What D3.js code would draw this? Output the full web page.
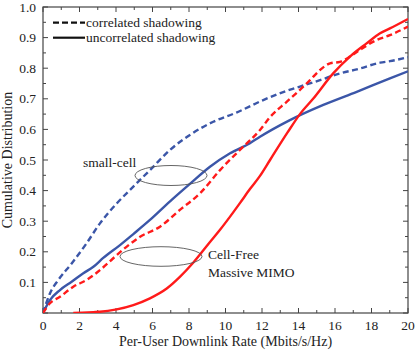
<!DOCTYPE html>
<html><head><meta charset="utf-8">
<script src="https://cdn.jsdelivr.net/npm/d3@7"></script>
<style>body{margin:0;background:#fff}svg{display:block}</style>
</head><body>
<script>
const xTicks = [0,2,4,6,8,10,12,14,16,18,20];
const yTicks = [0.1,0.2,0.3,0.4,0.5,0.6,0.7,0.8,0.9,1.0];

const smallCorrX = [0,0.38,0.84,1.57,2.39,3.12,4.04,4.95,5.86,6.96,8.05,9.33,10.6,12.07,13.35,14.08,15.18,16.27,17.19,18.47,19.01,20];
const smallCorrY = [0,0.064,0.108,0.162,0.228,0.293,0.358,0.413,0.467,0.533,0.582,0.625,0.655,0.696,0.726,0.74,0.761,0.783,0.796,0.818,0.823,0.836];

const smallUncX = [0,0.38,0.93,1.57,2.21,2.76,3.3,4.22,4.95,5.86,6.96,8.05,9.15,10.25,11.34,11.89,13.45,15.36,17.19,19.01,20];
const smallUncY = [0,0.042,0.075,0.102,0.13,0.151,0.18,0.222,0.258,0.304,0.365,0.422,0.478,0.522,0.555,0.576,0.628,0.68,0.723,0.767,0.79];

const cfCorrX = [0,0.38,0.93,1.66,2.39,3.12,3.85,4.59,5.32,6.41,7.5,8.6,9.7,10.79,11.89,12.44,13.35,14.08,14.63,15.18,15.73,16.27,16.82,17.37,18.28,19.01,20];
const cfCorrY = [0,0.032,0.053,0.086,0.108,0.14,0.179,0.217,0.249,0.282,0.337,0.391,0.467,0.533,0.598,0.64,0.69,0.729,0.761,0.794,0.816,0.821,0.838,0.86,0.892,0.908,0.936];

const cfUncX = [1.66,2.76,3.12,4.04,4.95,5.86,6.78,7.5,8.24,9.15,9.7,10.25,10.8,11.34,11.89,12.44,13.4,14.08,14.8,15.9,16.82,17.73,18.47,19.01,20];
const cfUncY = [0,0.003,0.004,0.012,0.026,0.048,0.08,0.118,0.165,0.232,0.272,0.315,0.36,0.405,0.448,0.5,0.59,0.65,0.7,0.783,0.838,0.881,0.914,0.93,0.961];

const legendLabels = ["correlated shadowing","uncorrelated shadowing"];
const xLabel = "Per-User Downlink Rate (Mbits/s/Hz)";
const yLabel = "Cumulative Distribution";

const W = 415, H = 350;
const m = {left:43, right:7, top:7, bottom:37};
const svg = d3.select("body").append("svg").attr("width",W).attr("height",H);
const x = d3.scaleLinear().domain([0,20]).range([m.left, W-m.right]);
const y = d3.scaleLinear().domain([0,1]).range([H-m.bottom, m.top]);
const font = "'Liberation Serif', 'Times New Roman', serif";
const axisCol = "#444";

// minor ticks
const xMinor = d3.range(0,21,1);
const yMinor = d3.range(0,1.0001,0.05);
const g = svg.append("g");
xMinor.forEach(v=>{
  const len = (v%2===0)?5:3;
  g.append("line").attr("x1",x(v)).attr("x2",x(v)).attr("y1",y(0)).attr("y2",y(0)-len).attr("stroke",axisCol);
  g.append("line").attr("x1",x(v)).attr("x2",x(v)).attr("y1",y(1)).attr("y2",y(1)+len).attr("stroke",axisCol);
});
yMinor.forEach((v,i)=>{
  const len = (i%2===0)?5:3;
  g.append("line").attr("x1",x(0)).attr("x2",x(0)+len).attr("y1",y(v)).attr("y2",y(v)).attr("stroke",axisCol);
  g.append("line").attr("x1",x(20)).attr("x2",x(20)-len).attr("y1",y(v)).attr("y2",y(v)).attr("stroke",axisCol);
});

svg.append("rect").attr("x",x(0)).attr("y",y(1)).attr("width",x(20)-x(0)).attr("height",y(0)-y(1))
  .attr("fill","none").attr("stroke",axisCol).attr("stroke-width",1.2);

// tick labels
svg.append("g").selectAll("text").data(xTicks).join("text")
  .attr("x",d=>x(d)).attr("y",y(0)+17).attr("text-anchor","middle")
  .attr("font-family",font).attr("font-size",13.5).attr("fill","#222").text(d=>d);
svg.append("g").selectAll("text").data(yTicks).join("text")
  .attr("x",x(0)-7).attr("y",d=>y(d)+4.5).attr("text-anchor","end")
  .attr("font-family",font).attr("font-size",13.5).attr("fill","#222").text(d=>d.toFixed(1));

svg.append("text").attr("x",(x(0)+x(20))/2).attr("y",346).attr("text-anchor","middle")
  .attr("font-family",font).attr("font-size",14).attr("fill","#222").text(xLabel);
svg.append("text").attr("transform",`translate(12,${(y(0)+y(1))/2}) rotate(-90)`).attr("text-anchor","middle")
  .attr("font-family",font).attr("font-size",14).attr("fill","#222").text(yLabel);

const line = d3.line().x(d=>x(d[0])).y(d=>y(d[1])).curve(d3.curveMonotoneX);
const blue = "#3b56a8", red = "#ff1a1a";
const series = [
  {xs:smallCorrX, ys:smallCorrY, c:blue, dash:"6,3.5"},
  {xs:smallUncX, ys:smallUncY, c:blue, dash:null},
  {xs:cfCorrX, ys:cfCorrY, c:red, dash:"6,3.5"},
  {xs:cfUncX, ys:cfUncY, c:red, dash:null},
];
svg.append("clipPath").attr("id","cp").append("rect")
  .attr("x",x(0)).attr("y",y(1)).attr("width",x(20)-x(0)).attr("height",y(0)-y(1));
series.forEach(s=>{
  svg.append("path").attr("d",line(s.xs.map((v,i)=>[v,s.ys[i]])))
    .attr("fill","none").attr("stroke",s.c).attr("stroke-width",2.4)
    .attr("stroke-dasharray",s.dash).attr("clip-path","url(#cp)");
});

// annotations
svg.append("ellipse").attr("cx",171).attr("cy",175.5).attr("rx",36).attr("ry",10)
  .attr("fill","none").attr("stroke","#555").attr("stroke-width",0.9);
svg.append("ellipse").attr("cx",161).attr("cy",256.5).attr("rx",41).attr("ry",9.8)
  .attr("fill","none").attr("stroke","#555").attr("stroke-width",0.9);
svg.append("text").attr("x",83).attr("y",166.5).attr("font-family",font).attr("font-size",13.5).attr("fill","#222").text("small-cell");
svg.append("text").attr("x",208).attr("y",259).attr("font-family",font).attr("font-size",13.5).attr("fill","#222").text("Cell-Free");
svg.append("text").attr("x",208).attr("y",276.5).attr("font-family",font).attr("font-size",13.5).attr("fill","#222").text("Massive MIMO");

// legend
const lg = svg.append("g");
legendLabels.forEach((t,i)=>{
  const yy = 22.7 + i*15;
  lg.append("line").attr("x1",53).attr("x2",85).attr("y1",yy).attr("y2",yy)
    .attr("stroke","#111").attr("stroke-width",2.2).attr("stroke-dasharray",i===0?"6,3":null);
  lg.append("text").attr("x",86).attr("y",yy+4.5).attr("font-family",font).attr("font-size",13.5).attr("fill","#222").text(t);
});
</script>
</body></html>
